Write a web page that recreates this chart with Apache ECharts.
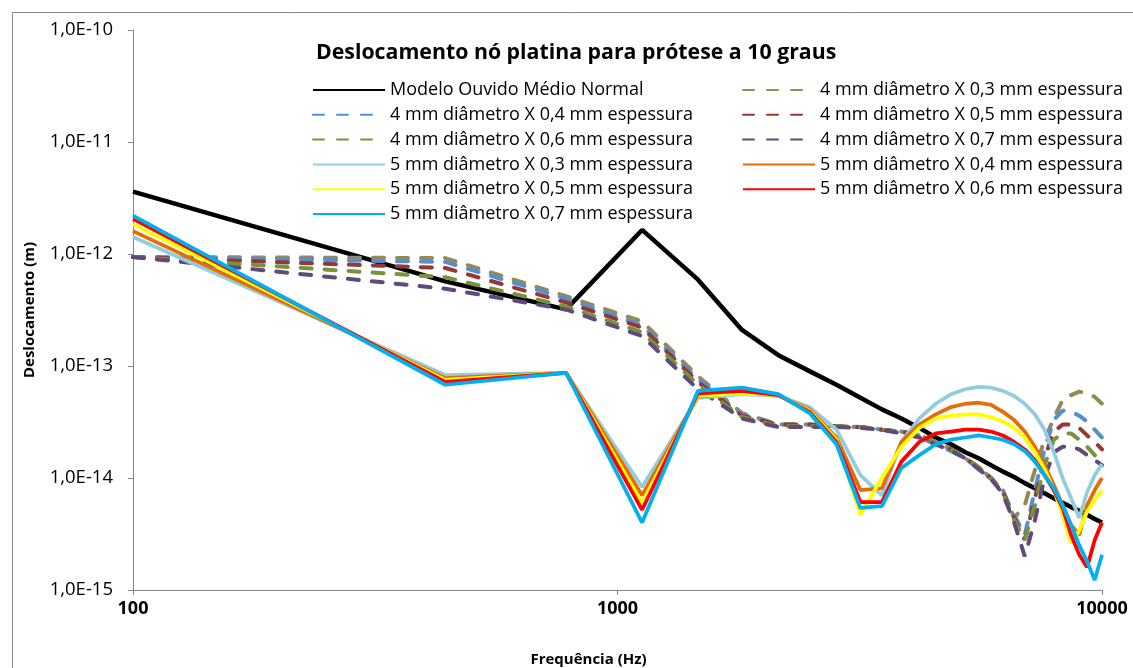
<!DOCTYPE html>
<html>
<head>
<meta charset="utf-8">
<script src="https://cdn.jsdelivr.net/npm/echarts@6/dist/echarts.min.js"></script>
<style>
  html, body { margin: 0; padding: 0; background: #fff; }
  #chart { width: 1133px; height: 668px; }
</style>
</head>
<body>
<div id="chart"></div>
<script>
// frequências (Hz)
var freq = [100, 441, 783, 1124, 1466, 1807, 2148, 2490, 2831, 3172, 3514, 3855, 4197, 4538, 4879,
  5221, 5562, 5903, 6245, 6586, 6928, 7269, 7610, 7952, 8293, 8634, 8976, 9317, 9659, 10000];

// deslocamentos (m)
var modeloNormal = [3.6e-12, 5.7e-13, 3.2e-13, 1.64e-12, 5.9e-13, 2.1e-13, 1.25e-13, 9.0e-14, 6.8e-14, 5.2e-14,
  4.1e-14, 3.4e-14, 2.8e-14, 2.3e-14, 2.0e-14, 1.7e-14, 1.5e-14, 1.3e-14, 1.14e-14, 1.02e-14,
  9.0e-15, 8.1e-15, 7.3e-15, 6.6e-15, 6.0e-15, 5.5e-15, 5.1e-15, 4.7e-15, 4.3e-15, 4.0e-15];
var d4x03 = [9.4e-13, 9.2e-13, 4.2e-13, 2.5e-13, 8.1e-14, 3.8e-14, 3.0e-14, 3.0e-14, 2.9e-14, 2.85e-14,
  2.7e-14, 2.6e-14, 2.4e-14, 2.1e-14, 1.8e-14, 1.5e-14, 1.25e-14, 1.0e-14, 7.8e-15, 4.4e-15,
  5.7e-15, 1.18e-14, 2.2e-14, 3.4e-14, 5.0e-14, 5.5e-14, 5.9e-14, 5.7e-14, 5.3e-14, 4.6e-14];
var d4x04 = [9.4e-13, 8.5e-13, 4.0e-13, 2.3e-13, 7.6e-14, 3.7e-14, 3.0e-14, 3.0e-14, 2.9e-14, 2.85e-14,
  2.7e-14, 2.6e-14, 2.3e-14, 2.0e-14, 1.74e-14, 1.5e-14, 1.2e-14, 9.8e-15, 7.5e-15, 4.7e-15,
  3.1e-15, 7.8e-15, 1.8e-14, 3.3e-14, 4.0e-14, 3.9e-14, 3.6e-14, 3.2e-14, 2.7e-14, 2.3e-14];
var d4x05 = [9.4e-13, 7.5e-13, 3.7e-13, 2.2e-13, 7.2e-14, 3.6e-14, 3.0e-14, 3.0e-14, 2.9e-14, 2.85e-14,
  2.7e-14, 2.6e-14, 2.4e-14, 2.1e-14, 1.8e-14, 1.5e-14, 1.25e-14, 1.0e-14, 7.5e-15, 4.4e-15,
  2.8e-15, 6.6e-15, 1.5e-14, 2.6e-14, 3.0e-14, 3.0e-14, 2.8e-14, 2.4e-14, 2.1e-14, 1.8e-14];
var d4x06 = [9.4e-13, 6.2e-13, 3.4e-13, 2.0e-13, 6.8e-14, 3.5e-14, 2.9e-14, 2.9e-14, 2.9e-14, 2.85e-14,
  2.7e-14, 2.6e-14, 2.4e-14, 2.1e-14, 1.8e-14, 1.5e-14, 1.25e-14, 1.0e-14, 7.3e-15, 4.2e-15,
  2.8e-15, 5.7e-15, 1.3e-14, 2.2e-14, 2.5e-14, 2.5e-14, 2.2e-14, 1.9e-14, 1.6e-14, 1.4e-14];
var d4x07 = [9.4e-13, 4.9e-13, 3.2e-13, 1.85e-13, 6.2e-14, 3.4e-14, 2.85e-14, 2.85e-14, 2.85e-14, 2.8e-14,
  2.7e-14, 2.5e-14, 2.3e-14, 2.0e-14, 1.75e-14, 1.5e-14, 1.2e-14, 9.8e-15, 7.2e-15, 4.0e-15,
  2.0e-15, 4.2e-15, 1.0e-14, 1.7e-14, 1.9e-14, 1.9e-14, 1.8e-14, 1.6e-14, 1.45e-14, 1.3e-14];
var s5x03 = [1.42e-12, 8.3e-14, 8.7e-14, 8.3e-15, 5.2e-14, 5.6e-14, 5.4e-14, 4.3e-14, 2.7e-14, 1.06e-14,
  7.0e-15, 2.1e-14, 3.4e-14, 4.6e-14, 5.6e-14, 6.2e-14, 6.5e-14, 6.4e-14, 6.0e-14, 5.4e-14,
  4.6e-14, 3.7e-14, 2.7e-14, 1.7e-14, 1.0e-14, 6.6e-15, 4.4e-15, 7.5e-15, 1.06e-14, 1.33e-14];
var s5x04 = [1.6e-12, 7.8e-14, 8.7e-14, 7.0e-15, 5.3e-14, 5.9e-14, 5.5e-14, 4.1e-14, 2.3e-14, 7.8e-15,
  8.1e-15, 2.1e-14, 3.0e-14, 3.7e-14, 4.3e-14, 4.6e-14, 4.7e-14, 4.5e-14, 3.9e-14, 3.3e-14,
  2.6e-14, 1.9e-14, 1.3e-14, 8.7e-15, 5.7e-15, 3.8e-15, 3.1e-15, 5.7e-15, 7.8e-15, 1.0e-14];
var s5x05 = [1.85e-12, 7.5e-14, 8.7e-14, 6.0e-15, 5.4e-14, 5.7e-14, 5.5e-14, 4.0e-14, 2.2e-14, 4.7e-15,
  1.0e-14, 1.9e-14, 2.8e-14, 3.4e-14, 3.6e-14, 3.7e-14, 3.7e-14, 3.5e-14, 3.2e-14, 2.8e-14,
  2.3e-14, 1.7e-14, 1.2e-14, 7.8e-15, 4.7e-15, 2.6e-15, 3.4e-15, 5.0e-15, 6.4e-15, 7.8e-15];
var s5x06 = [2.06e-12, 7.2e-14, 8.7e-14, 5.2e-15, 5.7e-14, 6.0e-14, 5.5e-14, 3.9e-14, 2.1e-14, 6.1e-15,
  6.1e-15, 1.4e-14, 2.1e-14, 2.5e-14, 2.6e-14, 2.7e-14, 2.7e-14, 2.6e-14, 2.4e-14, 2.1e-14,
  1.8e-14, 1.45e-14, 1.06e-14, 7.8e-15, 5.4e-15, 3.1e-15, 2.06e-15, 1.6e-15, 2.8e-15, 4.0e-15];
var s5x07 = [2.2e-12, 6.8e-14, 8.7e-14, 4.0e-15, 6.0e-14, 6.4e-14, 5.6e-14, 3.8e-14, 2.0e-14, 5.4e-15,
  5.6e-15, 1.23e-14, 1.6e-14, 2.0e-14, 2.2e-14, 2.3e-14, 2.4e-14, 2.3e-14, 2.2e-14, 2.0e-14,
  1.74e-14, 1.4e-14, 1.06e-14, 8.1e-15, 5.7e-15, 3.8e-15, 2.5e-15, 1.8e-15, 1.23e-15, 2.06e-15];

var nomes = ['Modelo Ouvido Médio Normal',
  '4 mm diâmetro X 0,3 mm espessura', '4 mm diâmetro X 0,4 mm espessura',
  '4 mm diâmetro X 0,5 mm espessura', '4 mm diâmetro X 0,6 mm espessura',
  '4 mm diâmetro X 0,7 mm espessura', '5 mm diâmetro X 0,3 mm espessura',
  '5 mm diâmetro X 0,4 mm espessura', '5 mm diâmetro X 0,5 mm espessura',
  '5 mm diâmetro X 0,6 mm espessura', '5 mm diâmetro X 0,7 mm espessura'];
var valores = [modeloNormal, d4x03, d4x04, d4x05, d4x06, d4x07, s5x03, s5x04, s5x05, s5x06, s5x07];
var cores = ['#000000', '#948A54', '#558ED5', '#953735', '#77933C', '#604A7B',
  '#93CDDD', '#E46C0A', '#FFFF00', '#FF0000', '#00B0F0'];

var fonte = '"Open Sans", "Noto Sans", sans-serif';

var chart = echarts.init(document.getElementById('chart'));

var series = [];
valores.forEach(function (v, i) {
  var tracejado = i >= 1 && i <= 5;
  series.push({
    name: nomes[i],
    type: 'line',
    symbol: 'none',
    showSymbol: false,
    animation: false,
    lineStyle: {
      color: cores[i],
      width: i === 0 ? 4.5 : (tracejado ? 4 : 3.75),
      type: tracejado ? [11, 13] : 'solid',
      cap: tracejado ? 'round' : 'butt'
    },
    itemStyle: { color: cores[i] },
    data: v.map(function (y, j) { return [freq[j], y]; })
  });
});

var legendaBase = {
  orient: 'vertical',
  itemWidth: 72,
  itemHeight: 18,
  itemGap: 6.8,
  selectedMode: false,
  itemStyle: { opacity: 0 },
  textStyle: { fontFamily: fonte, fontSize: 18, color: '#000', lineHeight: 18 }
};

var option = {
  backgroundColor: '#fff',
  animation: false,
  title: {
    text: 'Deslocamento nó platina para prótese a 10 graus',
    left: 311,
    top: 37,
    textStyle: { fontFamily: fonte, fontSize: 21.3, fontWeight: 'bold', color: '#000' }
  },
  legend: [
    Object.assign({}, legendaBase, {
      left: 307, top: 76,
      data: [nomes[0], nomes[2], nomes[4], nomes[6], nomes[8], nomes[10]]
    }),
    Object.assign({}, legendaBase, {
      left: 737, top: 76,
      data: [nomes[1], nomes[3], nomes[5], nomes[7], nomes[9]]
    })
  ],
  grid: { left: 133, right: 31, top: 30, bottom: 78, containLabel: false, outerBoundsMode: 'none' },
  xAxis: {
    type: 'log',
    logBase: 10,
    min: 100,
    max: 10000,
    name: 'Frequência (Hz)',
    nameLocation: 'middle',
    nameGap: 62,
    nameTextStyle: { fontFamily: fonte, fontSize: 15, fontWeight: 'bold', color: '#000', padding: [0, 58, 0, 0] },
    axisLine: { lineStyle: { color: '#868686', width: 1 } },
    axisTick: { show: true, length: 5, lineStyle: { color: '#868686' } },
    minorTick: { show: false },
    splitLine: { show: false },
    axisLabel: {
      margin: 10,
      fontFamily: fonte, fontSize: 18, fontWeight: 'bold', color: '#000',
      formatter: function (v) { return String(Math.round(v)); }
    }
  },
  yAxis: {
    type: 'log',
    logBase: 10,
    min: 1e-15,
    max: 1e-10,
    name: 'Deslocamento (m)',
    nameLocation: 'middle',
    nameGap: 96,
    nameTextStyle: { fontFamily: fonte, fontSize: 15, fontWeight: 'bold', color: '#000' },
    axisLine: { show: true, lineStyle: { color: '#868686', width: 1 } },
    axisTick: { show: true, length: 5, lineStyle: { color: '#868686' } },
    splitLine: { show: false },
    axisLabel: {
      margin: 20,
      fontFamily: fonte, fontSize: 18.5, color: '#000',
      formatter: function (v) { return '1,0E' + Math.round(Math.log10(v)); }
    }
  },
  graphic: [{
    type: 'rect',
    left: 10, top: 10,
    shape: { width: 1140, height: 680 },
    style: { fill: 'none', stroke: '#898989', lineWidth: 1 },
    silent: true,
    z: -1
  }],
  series: series
};

chart.setOption(option);
</script>
</body>
</html>
